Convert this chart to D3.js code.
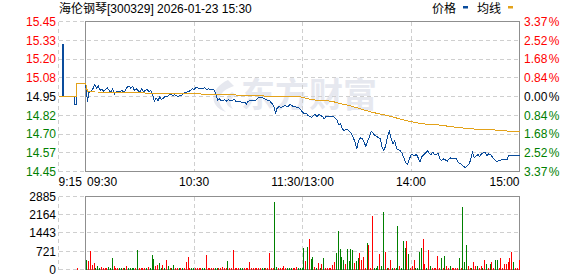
<!DOCTYPE html>
<html><head><meta charset="utf-8">
<script src="https://cdn.jsdelivr.net/npm/d3@7/dist/d3.min.js"></script>
<style>body{margin:0;background:#fff}svg{display:block}</style>
</head><body>
<svg id="c" width="578" height="276"></svg>
<script>
const titleText = "海伦钢琴[300329] 2026-01-23 15:30";
const legendNames = ["价格", "均线"];
const priceTicks = ["15.45","15.33","15.20","15.08","14.95","14.82","14.70","14.57","14.45"];
const pctTicks = ["3.37","2.52","1.68","0.84","0.00","0.84","1.68","2.52","3.37"];
const tickSide = [1,1,1,1,0,-1,-1,-1,-1];
const volTicks = [2885,2164,1443,721,0];
const timeLabels = ["9:15","09:30","10:30","11:30/13:00","14:00","15:00"];
const timeMinutes = [-15,0,60,120,180,240];

// pre-market (minutes relative to 09:30)
const preMin = [-15,-13,-12,-6,-5,0];
const prePrice = [14.95,15.295,14.95,14.897,15.035,15.035];
const preAvgMin = [-15,-5,0];
const preAvg = [14.95,15.035,15.035];
const preVolMin = [-5];
const preVol = [50];

// continuous session (trading minutes after 09:30)
const priceMin = [0,1,2,3,4,5,6,7,8,9,10,11,12,13,14,15,16,17,18,19,20,21,22,23,24,25,26,27,28,29,30,31,32,34,35,36,37,38,39,40,41,42,43,44,45,46,47,48,49,51,53,54,55,57,58,59,60,61,62,64,66,67,68,71,72,73,74,75,77,78,79,81,82,83,85,87,88,89,90,92,94,95,96,98,100,102,104,105,106,107,108,110,112,113,115,117,118,120,121,122,123,125,126,127,128,129,131,132,133,136,137,139,140,141,142,143,144,146,147,148,149,150,151,152,153,154,155,156,157,158,159,160,161,163,164,165,166,167,168,169,170,171,172,174,175,176,177,178,179,180,182,183,184,185,186,188,189,190,191,192,193,195,196,197,198,200,201,202,204,205,206,208,210,212,213,214,215,217,218,219,221,222,223,224,225,227,228,230,233,234,236,237,239,240];
const priceVal = [15.035,14.917,14.985,14.979,15.001,15.028,15.006,15.019,14.99,15.001,14.983,14.997,15.008,14.99,14.979,15.001,14.968,14.983,14.983,14.979,14.99,14.979,14.99,15.012,15.019,15.006,15.019,14.99,15.001,14.99,14.979,15.001,14.983,14.997,14.983,14.99,14.968,14.917,14.939,14.923,14.946,14.93,14.939,14.952,14.946,14.957,14.968,14.957,14.961,14.952,14.957,14.968,14.975,14.983,14.99,15.001,14.997,15.008,15.008,15.0,15.008,14.994,15.001,14.994,14.968,14.923,14.934,14.923,14.928,14.919,14.928,14.919,14.934,14.919,14.919,14.906,14.912,14.901,14.919,14.923,14.923,14.934,14.946,14.941,14.928,14.919,14.89,14.839,14.875,14.883,14.875,14.89,14.883,14.897,14.883,14.879,14.875,14.846,14.834,14.839,14.823,14.812,14.823,14.83,14.817,14.83,14.817,14.801,14.817,14.817,14.817,14.794,14.763,14.768,14.734,14.723,14.734,14.719,14.701,14.679,14.646,14.601,14.657,14.674,14.668,14.646,14.617,14.652,14.679,14.719,14.706,14.69,14.683,14.668,14.612,14.59,14.623,14.683,14.717,14.668,14.634,14.655,14.601,14.59,14.572,14.541,14.512,14.497,14.528,14.563,14.557,14.563,14.541,14.512,14.55,14.572,14.59,14.572,14.563,14.579,14.563,14.568,14.535,14.523,14.535,14.519,14.535,14.541,14.535,14.535,14.512,14.497,14.474,14.497,14.528,14.579,14.541,14.563,14.55,14.568,14.579,14.557,14.568,14.563,14.546,14.519,14.519,14.528,14.528,14.557,14.557,14.557,14.555,14.555];
const avgMin = [0,1,5,25,40,60,81,106,118,121,125,136,140,146,150,158,167,177,186,195,204,213,223,232,240];
const avgVal = [15.035,14.985,14.98,14.979,14.968,14.968,14.961,14.95,14.95,14.941,14.928,14.919,14.905,14.89,14.875,14.846,14.823,14.79,14.768,14.761,14.746,14.734,14.73,14.721,14.714];

// one bar per minute 09:31 .. 15:00
const volume = [391,352,743,196,274,40,156,40,117,40,
40,40,117,40,469,156,78,40,40,40,
40,78,156,40,40,40,40,40,782,40,
40,40,40,40,117,40,587,430,156,196,
274,40,196,40,391,156,40,78,196,40,
78,78,78,40,40,313,508,40,40,40,
40,40,40,40,40,40,587,40,40,40,
40,40,40,40,40,117,40,40,352,40,
40,782,40,40,40,40,40,40,40,40,
313,40,40,40,40,40,40,40,78,40,
40,665,40,40,2659,117,40,40,40,156,
78,40,40,40,78,78,117,40,40,40,
847,352,899,1212,430,508,117,40,274,40,
235,469,40,40,40,40,196,313,665,1525,
821,508,391,235,821,352,821,782,274,352,
469,665,391,508,40,1067,988,40,2133,40,
40,158,593,119,2291,711,79,40,395,40,
79,40,1738,158,40,1146,830,1146,593,40,
119,395,40,40,711,830,1225,237,40,751,
158,40,40,40,514,40,474,40,514,119,
40,119,40,79,40,40,474,40,2489,316,
988,158,79,40,277,158,119,40,119,79,
395,198,79,237,316,79,356,356,79,474,
40,237,237,277,474,672,316,40,40,356];
const volDir = ("GRRRRGGGRR"+"RRGGGRRRGG"+"RGRGGGGRGR"+"RRRGRGGGRR"+"GGRGRGRGGR"+
"RGRGRRRRGG"+"RRRRGGRRRR"+"RGGRRRRRGR"+"RRRRRGGRRR"+"RRRRRRRGGR"+
"RRRRGGRRRR"+"RGGGRRRGGG"+"GRGRGGRGRG"+"RGRRRRRRGG"+"GGGRGGGGRG"+
"GRRRRGRRRG"+"GGRGGRGRRG"+"RGGRGGGRGR"+"RRGGGGRRGR"+"GRRRRRGRGR"+
"RGRRRRGRGG"+"GRRGRRGRRG"+"RGRGRRGGRR"+"RRRRRRGRRR").split("");

const RED = "#ff0000", GREEN = "#008000", BLUE = "#0a4c9c", ORANGE = "#e3a21a";
const svg = d3.select("#c");
const x = d3.scaleLinear().domain([-15, 240]).range([58.5, 519.5]);
const y = d3.scaleLinear().domain([14.45, 15.45]).range([171.5, 21.5]);
const yGrid = d3.scalePoint().domain(d3.range(priceTicks.length)).range([21.5, 171.5]);
const yv = d3.scaleLinear().domain([0, 2885]).range([269.5, 196.5]);
const cx = v => Math.floor(v) + 0.5;
const NUMFONT = "'Liberation Sans', Arial, sans-serif";

// watermark
const wm = svg.append("g").attr("fill", "#e6e8ef");
wm.append("path").attr("d", "M228,80 C210,88 208,106 226,112 C216,103 216,92 234,86 Z M232,92 C224,97 224,106 233,109 C229,104 230,98 236,95 Z");
wm.append("text").attr("x", 241).attr("y", 107).attr("font-size", 34).attr("font-weight", "bold")
  .attr("font-family", "'Noto Sans CJK SC', sans-serif").text("东方财富");

// grids
const grid = svg.append("g").attr("stroke", "#cfcfcf").attr("stroke-dasharray", "4,3").attr("shape-rendering", "crispEdges");
d3.range(1, priceTicks.length - 1).forEach(i => {
  grid.append("line").attr("x1", x(-15)).attr("x2", x(240)).attr("y1", cx(yGrid(i))).attr("y2", cx(yGrid(i)));
});
[0, priceTicks.length - 1].forEach(i => {
  grid.append("line").attr("x1", x(-15)).attr("x2", x(0)).attr("y1", cx(yGrid(i))).attr("y2", cx(yGrid(i)));
});
volTicks.forEach((t, i) => {
  if (i === 0 || i === volTicks.length - 1) {
    grid.append("line").attr("x1", x(-15)).attr("x2", x(0)).attr("y1", cx(yv(t))).attr("y2", cx(yv(t)));
  } else {
    grid.append("line").attr("x1", x(-15)).attr("x2", x(240)).attr("y1", cx(yv(t))).attr("y2", cx(yv(t)));
  }
});
[-15, 60, 120, 180].forEach(m => {
  grid.append("line").attr("x1", cx(x(m))).attr("x2", cx(x(m))).attr("y1", yGrid(0)).attr("y2", yGrid(priceTicks.length - 1));
  grid.append("line").attr("x1", cx(x(m))).attr("x2", cx(x(m))).attr("y1", yv(2885)).attr("y2", yv(0));
});

// frames
const fr = svg.append("g").attr("fill", "none").attr("stroke", "#8f8f8f").attr("shape-rendering", "crispEdges");
fr.append("rect").attr("x", cx(x(0))).attr("y", cx(yGrid(0))).attr("width", Math.floor(x(240)) - Math.floor(x(0))).attr("height", Math.floor(yGrid(priceTicks.length - 1)) - Math.floor(yGrid(0)));
fr.append("rect").attr("x", cx(x(0))).attr("y", cx(yv(2885))).attr("width", Math.floor(x(240)) - Math.floor(x(0))).attr("height", Math.floor(yv(0)) - Math.floor(yv(2885)));

// volume bars
const bars = svg.append("g").attr("shape-rendering", "crispEdges");
bars.selectAll("rect.v").data(volume).join("rect").attr("class", "v")
  .attr("x", (d, i) => Math.round(x(i + 1) - 1)).attr("width", 1)
  .attr("y", d => yv(d)).attr("height", d => Math.max(1, yv(0) - yv(d)))
  .attr("fill", (d, i) => volDir[i] === "R" ? RED : GREEN);
bars.selectAll("rect.p").data(preVol).join("rect").attr("class", "p")
  .attr("x", (d, i) => Math.round(x(preVolMin[i] + 1) - 1)).attr("width", 1)
  .attr("y", d => yv(d)).attr("height", d => Math.max(1, yv(0) - yv(d)))
  .attr("fill", RED);

// price lines
const pre = preMin.map((m, i) => ({m, p: prePrice[i]}));
const main = priceMin.map((m, i) => ({m, p: priceVal[i]}));
const preA = preAvgMin.map((m, i) => ({m, p: preAvg[i]}));
const mainA = avgMin.map((m, i) => ({m, p: avgVal[i]}));
const lineStep = d3.line().x(d => x(d.m)).y(d => y(d.p)).curve(d3.curveStepAfter);
const lineLin = d3.line().x(d => x(d.m)).y(d => y(d.p));
const lg = svg.append("g").attr("fill", "none").attr("stroke-width", 1).attr("shape-rendering", "crispEdges");
lg.append("path").attr("d", lineStep(pre)).attr("stroke", BLUE);
lg.append("path").attr("d", lineLin(main)).attr("stroke", BLUE);
lg.append("path").attr("d", lineStep(preA)).attr("stroke", ORANGE);
lg.append("path").attr("d", lineLin(mainA)).attr("stroke", ORANGE);

// labels
const colorOf = s => s > 0 ? RED : (s < 0 ? GREEN : "#000");
const lab = svg.append("g").attr("font-family", NUMFONT).attr("font-size", 12);
priceTicks.forEach((t, i) => {
  lab.append("text").attr("x", 56).attr("y", yGrid(i)).attr("dy", "0.36em").attr("text-anchor", "end")
    .attr("fill", colorOf(tickSide[i])).text(t);
  const tx = lab.append("text").attr("x", 524).attr("y", yGrid(i)).attr("dy", "0.36em")
    .attr("fill", colorOf(tickSide[i]));
  tx.append("tspan").text(pctTicks[i]);
  tx.append("tspan").attr("dx", 1.5).text("%");
});
volTicks.forEach(t => {
  lab.append("text").attr("x", 56).attr("y", yv(t)).attr("dy", "0.36em").attr("text-anchor", "end")
    .attr("fill", "#000").text(t);
});
timeLabels.forEach((t, i) => {
  const m = timeMinutes[i];
  const anchor = i <= 1 ? "start" : (i === timeLabels.length - 1 ? "end" : "middle");
  const xx = i === 1 ? x(m) + 1.5 : x(m);
  lab.append("text").attr("x", xx).attr("y", 186).attr("text-anchor", anchor)
    .attr("fill", "#000").text(t);
});

// title and legend
const hd = svg.append("g").attr("font-family", "'Liberation Sans', 'Noto Sans CJK SC', sans-serif").attr("font-size", 12).attr("fill", "#000");
hd.append("text").attr("x", 59).attr("y", 12.5).text(titleText);
hd.append("text").attr("x", 432).attr("y", 12.5).text(legendNames[0]);
hd.append("rect").attr("x", 463).attr("y", 6).attr("width", 5).attr("height", 2.5).attr("fill", BLUE);
hd.append("text").attr("x", 477).attr("y", 12.5).text(legendNames[1]);
hd.append("rect").attr("x", 508).attr("y", 6).attr("width", 5).attr("height", 2.5).attr("fill", ORANGE);
</script>
</body></html>
